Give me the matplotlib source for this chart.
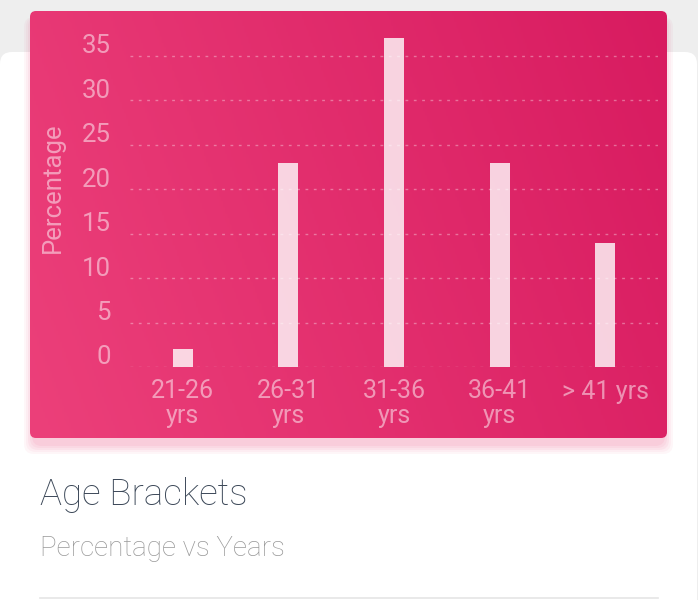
import matplotlib.pyplot as plt
import matplotlib.transforms as mtransforms
import numpy as np
from matplotlib.patches import FancyBboxPatch
from matplotlib.colors import LinearSegmentedColormap

plt.rcParams['font.family'] = ['Roboto', 'DejaVu Sans']

# data
categories = ['21-26\nyrs', '26-31\nyrs', '31-36\nyrs', '36-41\nyrs', '> 41 yrs']
values = [2, 23, 37, 23, 14]
y_ticks = [0, 5, 10, 15, 20, 25, 30, 35]

W, H = 698, 600
fig = plt.figure(figsize=(W / 100, H / 100), dpi=100)
fig.patch.set_facecolor('#eeeeee')

# background axes in pixel coords
bg = fig.add_axes([0, 0, 1, 1])
bg.set_xlim(0, W)
bg.set_ylim(H, 0)
bg.axis('off')

# white card
card = FancyBboxPatch((0, 52), 697, 600, boxstyle='round,pad=0,rounding_size=12',
                      fc='white', ec='none', zorder=1)
bg.add_patch(card)

# soft shadow under pink header
for i, a in enumerate([0.04, 0.04, 0.05, 0.05, 0.06]):
    d = 10 - 2 * i
    sh = FancyBboxPatch((30 - d + 4, 11 + 6), 637 + 2 * d - 8, 427 + d,
                        boxstyle='round,pad=0,rounding_size=10',
                        fc='#e91e63', ec='none', alpha=a, zorder=2)
    bg.add_patch(sh)

# pink gradient header
x0, x1, y0, y1 = 30, 667, 11, 438
hdr = FancyBboxPatch((x0, y0), x1 - x0, y1 - y0, boxstyle='round,pad=0,rounding_size=6',
                     fc='none', ec='none', zorder=3)
bg.add_patch(hdr)
cmap = LinearSegmentedColormap.from_list('pk', ['#ec407a', '#d81b60'])
gx, gy = np.meshgrid(np.linspace(0, 1, 300), np.linspace(0, 1, 200))
grad = 0.8 * gx + 0.2 * (1 - gy)
im = bg.imshow(grad, cmap=cmap, extent=[x0, x1, y1, y0], aspect='auto', zorder=3)
im.set_clip_path(hdr)
bg.set_xlim(0, W)
bg.set_ylim(H, 0)

# texts below
bg.text(40, 495, 'Age Brackets', fontsize=26.5, color='#3c4858', fontweight='light',
        va='center', ha='left', zorder=4)
bg.text(40, 548, 'Percentage vs Years', fontsize=20, color='#999999', fontweight='light',
        va='center', ha='left', zorder=4)
bg.plot([40, 658], [598, 598], color='#e5e5e5', lw=1.2, zorder=4)

# chart axes
px_per_unit = 8.886
top_val = 38
ax_bottom = 367
ax_top = ax_bottom - top_val * px_per_unit
ax = fig.add_axes([130 / W, (H - ax_bottom) / H, 528 / W, (ax_bottom - ax_top) / H])
ax.patch.set_alpha(0)
ax.set_zorder(5)

label_col = (1, 1, 1, 0.5)
x = np.arange(len(categories))
ax.bar(x, values, width=0.19, color='white', alpha=0.8, zorder=3)
ax.set_xlim(-0.5, len(categories) - 0.5)
ax.set_ylim(0, top_val)
ax.set_yticks(y_ticks)
ax.set_xticks(x)
ax.set_xticklabels(categories, linespacing=1.0)
ax.yaxis.grid(True, color='white', alpha=0.35, linestyle=(0, (2, 4)), lw=1)
ax.set_axisbelow(True)
for s in ax.spines.values():
    s.set_visible(False)
ax.tick_params(axis='both', length=0, colors=label_col)
ax.tick_params(axis='y', pad=14, labelsize=18.5)
ax.tick_params(axis='x', pad=9, labelsize=18)

# y labels sit a little above their grid lines
shift = mtransforms.ScaledTranslation(0, 12 / 100, fig.dpi_scale_trans)
for lab in ax.get_yticklabels():
    lab.set_transform(lab.get_transform() + shift)

ax.set_ylabel('Percentage', fontsize=18.5, color=label_col)
ax.yaxis.set_label_coords(-0.123, 0.53)

fig.savefig('out.png', dpi=100, facecolor=fig.get_facecolor())
